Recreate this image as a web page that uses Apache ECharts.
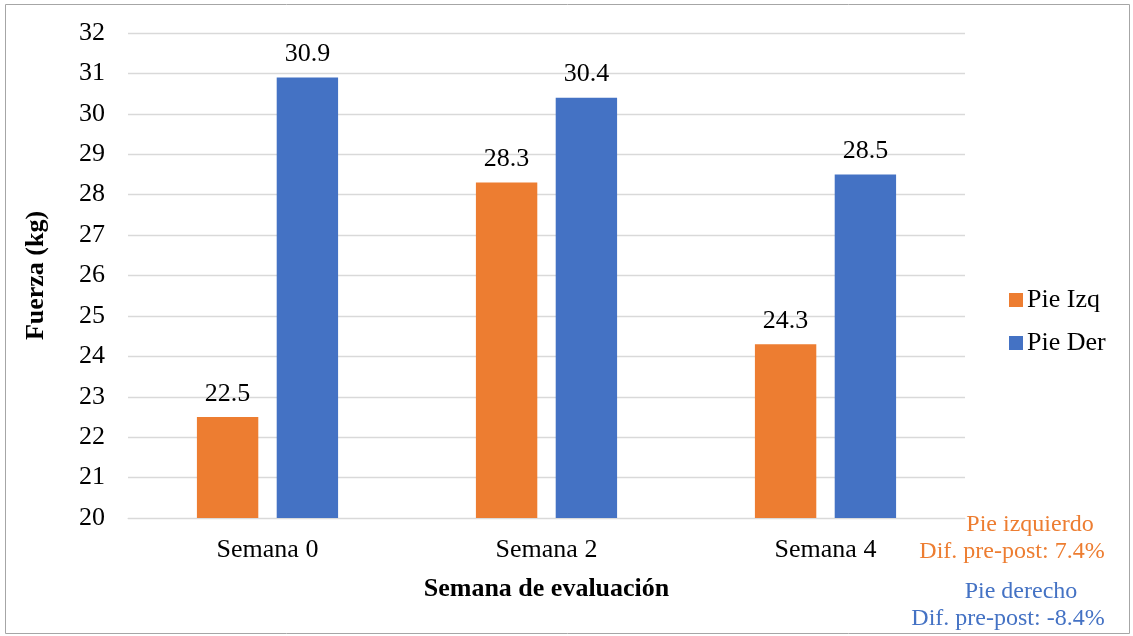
<!DOCTYPE html>
<html>
<head>
<meta charset="utf-8">
<script src="https://cdn.jsdelivr.net/npm/echarts@6/dist/echarts.min.js"></script>
<style>
  html, body { margin: 0; padding: 0; background: #fff; }
  #chart { width: 1133px; height: 636px; }
</style>
</head>
<body>
<div id="chart"></div>
<script>
// Fuerza por semana de evaluación
const categories = ['Semana 0', 'Semana 2', 'Semana 4'];
const pieIzq = [22.5, 28.3, 24.3];
const pieDer = [30.9, 30.4, 28.5];
const seriesNames = ['Pie Izq', 'Pie Der'];
const notes = [
  ['Pie izquierdo', 'Dif. pre-post: 7.4%'],
  ['Pie derecho', 'Dif. pre-post: -8.4%']
];

const ORANGE = '#ED7D31';
const BLUE = '#4472C4';
const FONT = '"Liberation Serif", "Times New Roman", serif';
const FS = 26;

const chart = echarts.init(document.getElementById('chart'), null, { renderer: 'canvas' });

const labelStyle = {
  show: true,
  position: 'top',
  distance: 10,
  color: '#000',
  fontFamily: FONT,
  fontSize: FS,
  formatter: p => p.value.toFixed(1)
};

chart.setOption({
  backgroundColor: '#fff',
  animation: false,
  textStyle: { fontFamily: FONT },
  grid: { left: 128, right: 168, top: 33, bottom: 118 },
  legend: {
    orient: 'vertical',
    left: 1004,
    top: 282,
    itemWidth: 14,
    itemHeight: 14,
    itemGap: 17,
    icon: 'rect',
    textStyle: { fontFamily: FONT, fontSize: FS, color: '#000', padding: [0, 0, 0, -1] },
    data: seriesNames
  },
  xAxis: {
    type: 'category',
    data: categories,
    axisLine: { show: true, lineStyle: { color: '#d9d9d9', width: 1 } },
    axisTick: { show: false },
    axisLabel: { color: '#000', fontFamily: FONT, fontSize: FS, margin: 19 },
    name: 'Semana de evaluación',
    nameLocation: 'middle',
    nameGap: 58,
    nameTextStyle: { color: '#000', fontFamily: FONT, fontSize: FS, fontWeight: 'bold' }
  },
  yAxis: {
    type: 'value',
    min: 20,
    max: 32,
    interval: 1,
    axisLine: { show: false },
    axisTick: { show: false },
    axisLabel: { color: '#000', fontFamily: FONT, fontSize: FS, margin: 23 },
    splitLine: { lineStyle: { color: '#d9d9d9', width: 1.3 } },
    name: 'Fuerza (kg)',
    nameLocation: 'middle',
    nameGap: 79,
    nameTextStyle: { color: '#000', fontFamily: FONT, fontSize: FS, fontWeight: 'bold' }
  },
  series: [
    {
      name: seriesNames[0],
      type: 'bar',
      data: pieIzq,
      barWidth: '22%',
      barGap: '30%',
      itemStyle: { color: ORANGE },
      label: labelStyle
    },
    {
      name: seriesNames[1],
      type: 'bar',
      data: pieDer,
      barWidth: '22%',
      barGap: '30%',
      itemStyle: { color: BLUE },
      label: labelStyle
    }
  ],
  graphic: [
    {
      type: 'rect',
      shape: { x: 5.5, y: 4.5, width: 1124, height: 629 },
      style: { fill: 'none', stroke: '#a6a6a6', lineWidth: 1 },
      silent: true
    },
    { type: 'text', x: 1030, y: 525, style: { text: notes[0][0], fill: ORANGE, font: '24px ' + FONT, textAlign: 'center', textVerticalAlign: 'middle' } },
    { type: 'text', x: 1012, y: 552, style: { text: notes[0][1], fill: ORANGE, font: '24px ' + FONT, textAlign: 'center', textVerticalAlign: 'middle' } },
    { type: 'text', x: 1021, y: 592, style: { text: notes[1][0], fill: BLUE, font: '24px ' + FONT, textAlign: 'center', textVerticalAlign: 'middle' } },
    { type: 'text', x: 1008, y: 619, style: { text: notes[1][1], fill: BLUE, font: '24px ' + FONT, textAlign: 'center', textVerticalAlign: 'middle' } }
  ]
});
</script>
</body>
</html>
